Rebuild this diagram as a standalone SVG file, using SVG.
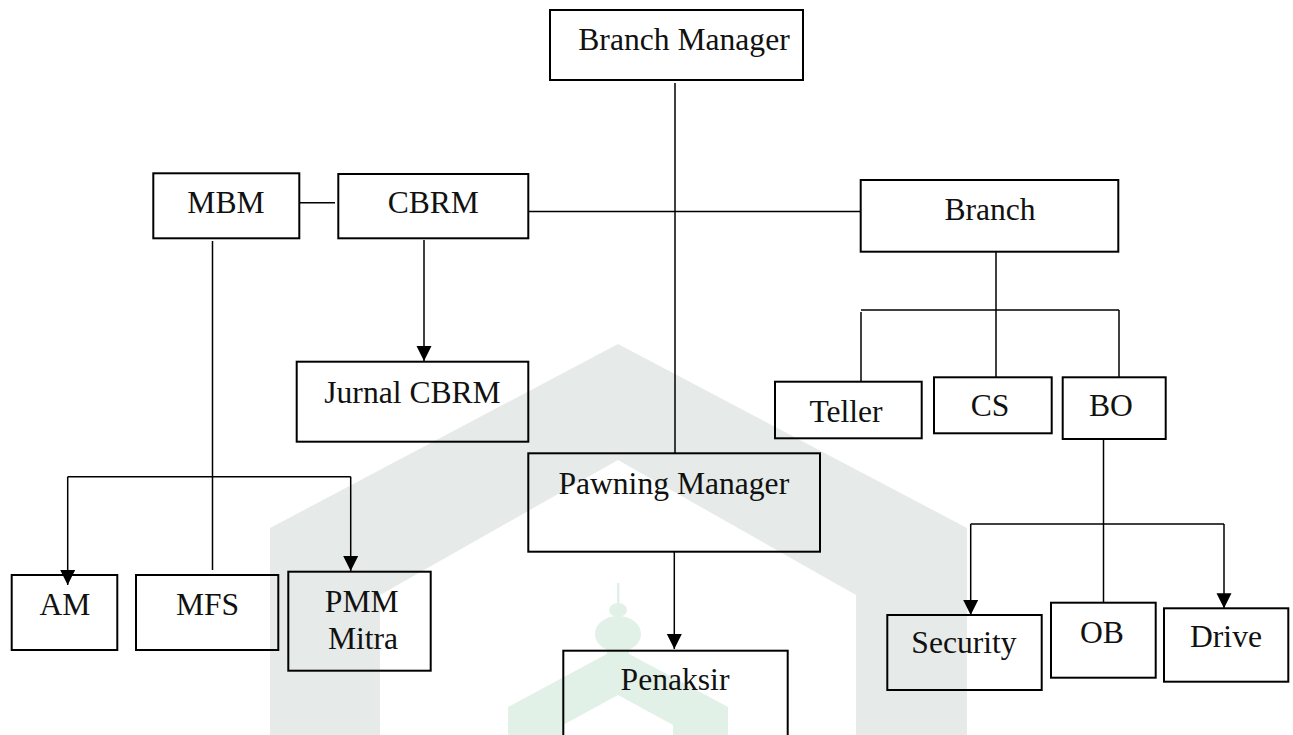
<svg xmlns="http://www.w3.org/2000/svg" width="1293" height="735" viewBox="0 0 1293 735">
<style>
.box{fill:none;stroke:#000;stroke-width:2}
.ln{fill:none;stroke:#000;stroke-width:1.5}
.t{font-family:"Liberation Serif","Times New Roman",serif;font-size:31.6px;fill:#111;text-anchor:middle}
</style>
<defs>
<marker id="ah" markerUnits="userSpaceOnUse" markerWidth="16" markerHeight="16" viewBox="0 0 16 16" refX="15" refY="8" orient="auto">
<path d="M0,0.5 L15,8 L0,15.5 Z" fill="#000"/>
</marker>
</defs>
<rect width="1293" height="735" fill="#fff"/>
<g id="watermark">
<path d="M270,735 L270,528 L618,344 L967,528 L967,735 L856,735 L856,595 L618,460 L380,595 L380,735 Z" fill="#e6eae8"/>
<path d="M508,735 L508,707 L618,648 L728,707 L728,735 L673,735 L673,725 L618,695 L563,725 L563,735 Z" fill="#e1f1e8"/>
<rect x="617" y="583" width="2.5" height="22" fill="#e1f1e8"/>
<ellipse cx="618" cy="610" rx="9" ry="7" fill="#e1f1e8"/>
<ellipse cx="618" cy="634" rx="23" ry="18" fill="#e1f1e8"/>
<rect x="607" y="640" width="22" height="14" fill="#e1f1e8"/>
</g>
<g id="connectors">
<line class="ln" x1="675" y1="83" x2="675" y2="453"/>
<line class="ln" x1="300" y1="202.7" x2="335" y2="202.7"/>
<line class="ln" x1="529" y1="211.5" x2="861" y2="211.5"/>
<line class="ln" x1="424" y1="240" x2="424" y2="361" marker-end="url(#ah)"/>
<line class="ln" x1="212.5" y1="241" x2="212.5" y2="570"/>
<line class="ln" x1="67.7" y1="476.7" x2="350.7" y2="476.7"/>
<line class="ln" x1="67.7" y1="476.7" x2="67.7" y2="585" marker-end="url(#ah)"/>
<line class="ln" x1="350.7" y1="476.7" x2="350.7" y2="571" marker-end="url(#ah)"/>
<line class="ln" x1="674.3" y1="552" x2="674.3" y2="649" marker-end="url(#ah)"/>
<line class="ln" x1="996" y1="252" x2="996" y2="377"/>
<line class="ln" x1="861" y1="310" x2="1119" y2="310"/>
<line class="ln" x1="861" y1="312" x2="861" y2="381.7"/>
<line class="ln" x1="1119" y1="310" x2="1119" y2="377.3"/>
<line class="ln" x1="1103.5" y1="439" x2="1103.5" y2="602.7"/>
<line class="ln" x1="970.7" y1="524" x2="1224" y2="524"/>
<line class="ln" x1="970.7" y1="524" x2="970.7" y2="615" marker-end="url(#ah)"/>
<line class="ln" x1="1224" y1="524" x2="1224" y2="608.3" marker-end="url(#ah)"/>
</g>
<g id="branch-manager"><rect class="box" x="550" y="10" width="253" height="70"/><text class="t" x="684" y="50">Branch Manager</text></g>
<g id="mbm"><rect class="box" x="153.3" y="173.3" width="146" height="65"/><text class="t" x="226" y="213">MBM</text></g>
<g id="cbrm"><rect class="box" x="338.3" y="174" width="190" height="64.3"/><text class="t" x="433.3" y="213">CBRM</text></g>
<g id="branch"><rect class="box" x="860.7" y="180" width="257.6" height="71.7"/><text class="t" x="990" y="220">Branch</text></g>
<g id="jurnal-cbrm"><rect class="box" x="296.7" y="361.7" width="231.6" height="80"/><text class="t" x="412.5" y="402.7">Jurnal CBRM</text></g>
<g id="teller"><rect class="box" x="775" y="381.7" width="146.7" height="56.6"/><text class="t" x="846" y="421.7">Teller</text></g>
<g id="cs"><rect class="box" x="934" y="377.3" width="117.7" height="56"/><text class="t" x="990" y="416">CS</text></g>
<g id="bo"><rect class="box" x="1062.7" y="377.3" width="103" height="61.7"/><text class="t" x="1111" y="416">BO</text></g>
<g id="pawning-manager"><rect class="box" x="528.3" y="453.3" width="291.7" height="98.4"/><text class="t" x="673.8" y="494.3">Pawning Manager</text></g>
<g id="penaksir"><rect class="box" x="563.3" y="650.7" width="224.4" height="100"/><text class="t" x="675" y="690">Penaksir</text></g>
<g id="am"><rect class="box" x="11.7" y="575" width="105.6" height="75"/><text class="t" x="65" y="615">AM</text></g>
<g id="mfs"><rect class="box" x="136" y="575" width="142.3" height="75"/><text class="t" x="207.5" y="615">MFS</text></g>
<g id="pmm-mitra"><rect class="box" x="288.3" y="571.7" width="142.4" height="99"/><text class="t" x="361.7" y="611.7">PMM</text><text class="t" x="363" y="649">Mitra</text></g>
<g id="security"><rect class="box" x="887.3" y="615" width="154.4" height="75"/><text class="t" x="964" y="653">Security</text></g>
<g id="ob"><rect class="box" x="1051" y="602.7" width="104.7" height="75"/><text class="t" x="1102" y="642.7">OB</text></g>
<g id="drive"><rect class="box" x="1164" y="608.3" width="124.3" height="73.4"/><text class="t" x="1226" y="647">Drive</text></g>
</svg>
